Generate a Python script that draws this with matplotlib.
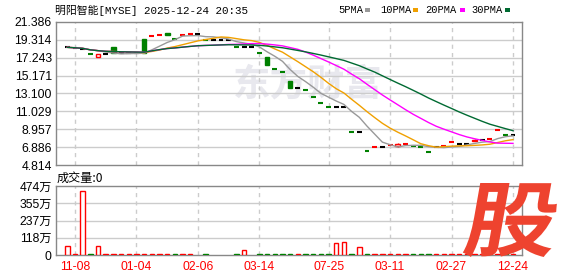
import matplotlib
matplotlib.use("Agg")
import matplotlib.pyplot as plt
import numpy as np
import pandas as pd
from matplotlib.patches import Rectangle, PathPatch
from matplotlib.textpath import TextPath
from matplotlib.font_manager import FontProperties
from matplotlib.transforms import Affine2D

# daily candles (open / close / high / low)
opens = [18.45, 18.35, 18.20, 17.66, 17.37, 17.64, 18.49, 17.76, 17.76, 17.76,
         19.42, 19.74, 19.86, 20.08, 19.40, 19.82, 19.94, 19.96, 19.32, 19.26,
         19.26, 19.26, 18.51, 18.49, 18.49, 17.78, 17.29, 15.92, 15.58, 14.55,
         13.74, 13.49, 12.68, 12.02, 11.52, 11.50, 11.50, 8.62, 8.60, 6.42,
         6.84, 6.86, 7.08, 7.00, 7.19, 7.02, 6.92, 6.34, 6.90, 6.96,
         7.42, 7.20, 7.20, 7.60, 7.71, 7.81, 8.85, 8.31, 8.29]
closes = [18.45, 18.35, 18.20, 17.64, 17.68, 17.64, 17.76, 17.76, 17.76, 17.76,
          17.76, 19.76, 19.88, 19.91, 19.38, 19.84, 19.96, 19.96, 19.30, 19.26,
          19.26, 19.26, 18.49, 18.49, 18.49, 17.76, 16.44, 15.90, 15.56, 13.74,
          13.74, 13.47, 12.66, 12.00, 11.50, 11.50, 11.50, 8.60, 8.60, 6.40,
          6.86, 6.86, 7.10, 7.28, 7.21, 7.00, 6.90, 6.32, 6.90, 6.98,
          7.44, 7.20, 7.20, 7.75, 7.71, 7.83, 8.87, 8.29, 8.29]
highs = list(np.maximum(opens, closes))
lows = list(np.minimum(opens, closes))
highs[43], lows[43] = 7.40, 6.95
highs[45] = 7.12
highs[53], lows[53] = 7.88, 7.55

# volume in 万
volumes = [65, 6, 437, 6, 65, 6, 6, 10, 6, 6, 6, 6, 6, 6, 6, 6, 6, 0, 6, 0,
           0, 0, 6, 32, 0, 6, 6, 6, 6, 6, 6, 6, 6, 6, 6, 82, 89, 6, 53, 6,
           6, 6, 6, 6, 6, 6, 6, 6, 6, 6, 6, 6, 6, 6, 6, 6, 6, 6, 6]
vol_up = [1, 1, 1, 0, 1, 1, 1, 1, 1, 1, 1, 1, 1, 1, 0, 1, 1, 1, 0, 1,
          1, 1, 0, 1, 1, 0, 0, 0, 0, 0, 1, 0, 0, 0, 0, 1, 1, 0, 1, 0,
          1, 1, 1, 1, 1, 0, 0, 0, 1, 1, 1, 1, 1, 1, 1, 1, 1, 0, 1]

date_pos = [1, 9, 17, 25, 34, 42, 50, 58]
date_labels = ["11-08", "01-04", "02-06", "03-14", "07-25", "03-11", "02-27", "12-24"]
price_ticks = [4.814, 6.886, 8.957, 11.029, 13.100, 15.171, 17.243, 19.314, 21.386]
vol_ticks = [0, 118.5, 237, 355.5, 474]
vol_tick_labels = ["0", "118万", "237万", "355万", "474万"]

ma_specs = [("5PMA", 5, "#999999"), ("10PMA", 10, "#f0a000"),
            ("20PMA", 20, "#ff00ff"), ("30PMA", 30, "#006a32")]

RED = "#ff0000"
GREEN = "#008000"
GRID = "#cccccc"
SPINE = "#888888"
W, H = 578, 276
num_font = ["Liberation Sans", "Noto Sans CJK SC"]


def fx(x):
    return x / W


def fy(y):
    return 1 - y / H


fig = plt.figure(figsize=(W / 100, H / 100), dpi=100)
ax = fig.add_axes([fx(56), fy(165), (522 - 56) / W, (165 - 22) / H])
axv = fig.add_axes([fx(56), fy(255), (522 - 56) / W, (255 - 186) / H])

x = np.arange(len(closes))
xlim = (-1.47, 59.17)

# watermark
ax.text(0.54, 0.56, "东方财富", transform=ax.transAxes, ha="center", va="center",
        fontsize=27, color="#e8e8ee", family="Noto Sans CJK SC", fontweight="bold", zorder=0)

for a in (ax, axv):
    a.set_xlim(*xlim)
    for s in a.spines.values():
        s.set_color(SPINE)
        s.set_linewidth(1.0)
    for p in date_pos:
        a.axvline(p, color=GRID, lw=1.0, ls=(0, (3, 3)), zorder=0)
    a.tick_params(length=0, pad=3)

ax.set_ylim(price_ticks[0], price_ticks[-1])
for t in price_ticks[1:-1]:
    ax.axhline(t, color=GRID, lw=1.0, zorder=0)
ax.set_yticks(price_ticks)
ax.set_yticklabels([f"{t:.3f}" for t in price_ticks], fontsize=8.7, family=num_font)
ax.set_xticks([])

# candles
for i in x:
    o, c = opens[i], closes[i]
    col = RED if c > o else (GREEN if c < o else "#000000")
    if highs[i] > max(o, c) or lows[i] < min(o, c):
        ax.vlines(i, lows[i], highs[i], color=col, lw=1.0, zorder=2)
    if abs(c - o) < 0.05:
        ax.hlines(c, i - 0.32, i + 0.32, color=col, lw=1.5, zorder=2)
    else:
        face = "white" if c > o else col
        ax.bar(i, c - o, bottom=o, width=0.6, facecolor=face, edgecolor=col,
               lw=1.0, zorder=2)

close_s = pd.Series(closes)
for name, n, col in ma_specs:
    ma = close_s.rolling(n, min_periods=1).mean()
    ax.plot(x, ma, color=col, lw=1.0, zorder=3)

# volume
axv.set_ylim(0, 474)
for t in vol_ticks[1:-1]:
    axv.axhline(t, color=GRID, lw=1.0, zorder=0)
axv.set_yticks(vol_ticks)
axv.set_yticklabels(vol_tick_labels, fontsize=8.7, family=num_font)
for i in x:
    v = volumes[i]
    if v <= 0:
        continue
    if vol_up[i]:
        axv.bar(i, v, width=0.58, facecolor="white", edgecolor=RED, lw=1.0, zorder=3)
    else:
        axv.bar(i, v, width=0.58, facecolor=GREEN, edgecolor=GREEN, lw=1.0, zorder=3)
axv.set_xticks(date_pos)
axv.set_xticklabels(date_labels, fontsize=8.7, family=num_font, color=RED)
axv.tick_params(axis="x", pad=4)

# header texts
fig.text(fx(55), fy(10), "明阳智能[MYSE] 2025-12-24 20:35", ha="left", va="center",
         fontsize=7.8, family=["Liberation Mono", "Noto Sans CJK SC"])
leg_x = [338, 380, 425, 471]
sq_x = [365, 413, 460, 505]
for (name, n, col), tx, sx in zip(ma_specs, leg_x, sq_x):
    fig.text(fx(tx), fy(10), name, ha="left", va="center", fontsize=7.5,
             family="Liberation Mono")
    fig.patches.append(Rectangle((fx(sx), fy(11.5)), 5 / W, 3 / H, transform=fig.transFigure,
                                 facecolor=col, edgecolor="none"))
fig.text(fx(57), fy(178), "成交量:0", ha="left", va="center", fontsize=8.7,
         family=["Noto Sans CJK SC", "DejaVu Sans"])

# big slanted logo character
tp = TextPath((0, 0), "股", size=80, prop=FontProperties(family="Noto Sans CJK SC", weight="black"))
bb = tp.get_extents()
sx_ = 88 / bb.width
sy_ = 74 / bb.height
tr = (Affine2D().translate(-bb.x0, -bb.y0).scale(sx_, sy_).skew_deg(10, 0)
      .translate(462, H - 257))
fig.add_artist(PathPatch(tr.transform_path(tp), facecolor="#ee432f", edgecolor="none",
                         transform=None, zorder=10))

fig.savefig("out.png", dpi=100)
